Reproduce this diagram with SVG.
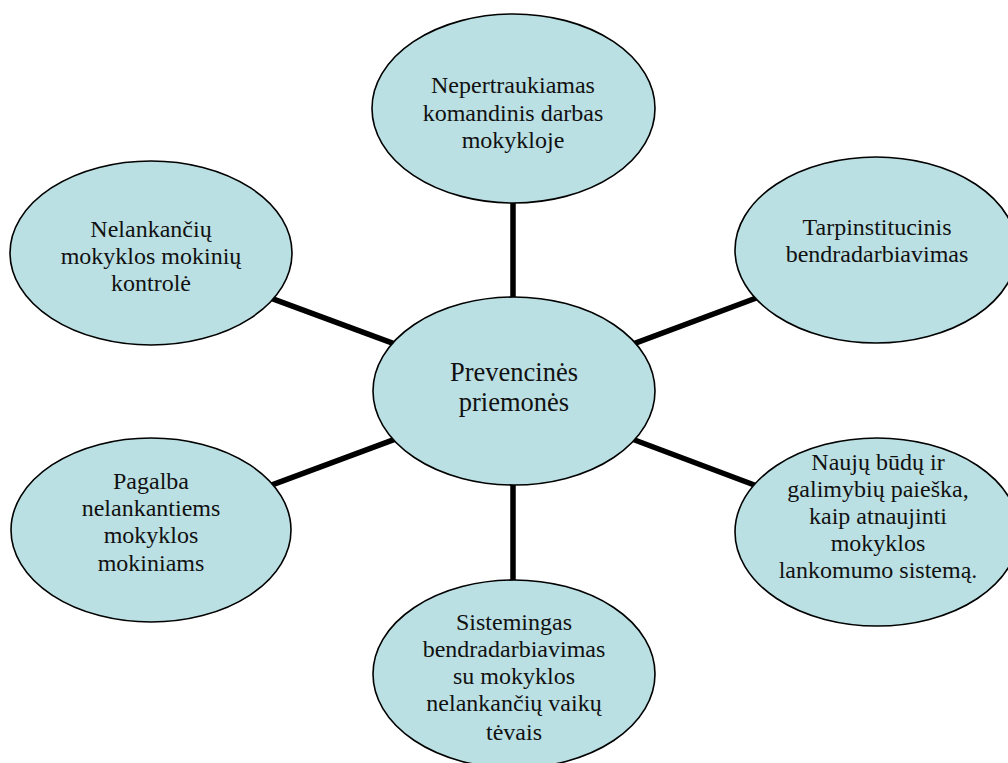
<svg xmlns="http://www.w3.org/2000/svg" width="1008" height="763" viewBox="0 0 1008 763">
<style>
.n{fill:#bae0e3;stroke:#000;stroke-width:1.6}
.t{font-family:"Liberation Serif","Times New Roman",serif;font-size:24px;fill:#111;text-anchor:middle}
.c{font-size:26.5px}
.e{stroke:#000;stroke-width:5.5;fill:none}
</style>
<rect width="1008" height="763" fill="#fff"/>
<g id="connectors">
<line class="e" x1="513" y1="195" x2="513" y2="305"/>
<line class="e" x1="513" y1="478" x2="513" y2="588"/>
<line class="e" x1="262" y1="294.8" x2="402" y2="346.6"/>
<line class="e" x1="262" y1="488.6" x2="402" y2="436.7"/>
<line class="e" x1="765" y1="294.8" x2="626" y2="346.6"/>
<line class="e" x1="765" y1="489" x2="626" y2="436.7"/>
</g>
<g id="center">
<ellipse class="n" cx="514" cy="391" rx="141" ry="94"/>
<text class="t c" x="514"><tspan x="514" y="381">Prevencinės</tspan><tspan x="514" y="411">priemonės</tspan></text>
</g>
<g id="top">
<ellipse class="n" cx="513.5" cy="108.5" rx="141.5" ry="94.5"/>
<text class="t"><tspan x="513" y="93">Nepertraukiamas</tspan><tspan x="513" y="121">komandinis darbas</tspan><tspan x="513" y="148">mokykloje</tspan></text>
</g>
<g id="top-left">
<ellipse class="n" cx="151" cy="253" rx="141" ry="92"/>
<text class="t"><tspan x="151" y="237">Nelankančių</tspan><tspan x="151" y="264">mokyklos mokinių</tspan><tspan x="151" y="291">kontrolė</tspan></text>
</g>
<g id="top-right">
<ellipse class="n" cx="876" cy="250" rx="141" ry="93"/>
<text class="t"><tspan x="877" y="235">Tarpinstitucinis</tspan><tspan x="877" y="262">bendradarbiavimas</tspan></text>
</g>
<g id="bottom-left">
<ellipse class="n" cx="151" cy="530" rx="140" ry="92"/>
<text class="t"><tspan x="151" y="489">Pagalba</tspan><tspan x="151" y="516">nelankantiems</tspan><tspan x="151" y="543">mokyklos</tspan><tspan x="151" y="571">mokiniams</tspan></text>
</g>
<g id="bottom-right">
<ellipse class="n" cx="877" cy="532" rx="142" ry="94"/>
<text class="t"><tspan x="878" y="470">Naujų būdų ir</tspan><tspan x="878" y="497">galimybių paieška,</tspan><tspan x="878" y="524">kaip atnaujinti</tspan><tspan x="878" y="551">mokyklos</tspan><tspan x="878" y="578">lankomumo sistemą.</tspan></text>
</g>
<g id="bottom">
<ellipse class="n" cx="514" cy="674" rx="141" ry="94"/>
<text class="t"><tspan x="514" y="630">Sistemingas</tspan><tspan x="514" y="657">bendradarbiavimas</tspan><tspan x="514" y="684">su mokyklos</tspan><tspan x="514" y="711">nelankančių vaikų</tspan><tspan x="514" y="740">tėvais</tspan></text>
</g>
</svg>
